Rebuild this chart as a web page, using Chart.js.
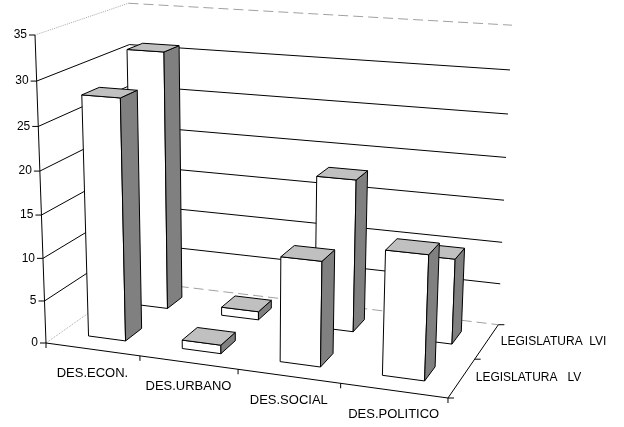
<!DOCTYPE html>
<html lang="es">
<head>
<meta charset="UTF-8">
<title>Legislaturas</title>
<script src="https://cdn.jsdelivr.net/npm/chart.js"></script>
<style>
  body { margin: 0; background: #fff; }
</style>
</head>
<body>
<canvas id="grafico" width="624" height="427"></canvas>
<script>
// datos
const categorias = ['DES.ECON.', 'DES.URBANO', 'DES.SOCIAL', 'DES.POLITICO'];
const series = ['LEGISLATURA   LV', 'LEGISLATURA  LVI'];
const valoresLV = [28, 1, 12, 14];
const valoresLVI = [31, 1, 18, 10];
const ticksY = [0, 5, 10, 15, 20, 25, 30, 35];

// camara en perspectiva (origen + direcciones u, w, h en coordenadas homogeneas)
const O = [46, 343, 1];
const EU = [363.9, 21.17, -0.085];
const EW = [103.4, -29.7, 0.115];
const EH = [-12.84, -309.84, -0.0526];

function proj(u, w, h) {
  const X = O[0] + u * EU[0] + w * EW[0] + h * EH[0];
  const Y = O[1] + u * EU[1] + w * EW[1] + h * EH[1];
  const Z = O[2] + u * EU[2] + w * EW[2] + h * EH[2];
  return [X / Z, Y / Z];
}

function linea(ctx, a, b, color, dash) {
  const p = proj(a[0], a[1], a[2]), q = proj(b[0], b[1], b[2]);
  ctx.save();
  ctx.strokeStyle = color;
  ctx.setLineDash(dash || []);
  ctx.beginPath();
  ctx.moveTo(p[0], p[1]);
  ctx.lineTo(q[0], q[1]);
  ctx.stroke();
  ctx.restore();
}

function cara(ctx, pts, fill) {
  ctx.beginPath();
  pts.forEach((c, k) => {
    const p = proj(c[0], c[1], c[2]);
    if (k === 0) ctx.moveTo(p[0], p[1]); else ctx.lineTo(p[0], p[1]);
  });
  ctx.closePath();
  ctx.fillStyle = fill;
  ctx.fill();
  ctx.stroke();
}

const tresD = {
  id: 'tresD',
  beforeDatasetsDraw() { return false; },
  afterDraw(chart) {
    const ctx = chart.ctx;
    const xs = chart.scales.x, ys = chart.scales.y, zs = chart.scales.z;
    const U = i => (xs.getPixelForValue(i) - xs.left) / xs.width;
    const W = s => zs.width > 0 ? (zs.getPixelForValue(s) - zs.left) / zs.width : (s + 0.5) / series.length;
    const H = v => (ys.bottom - ys.getPixelForValue(v)) / ys.height;
    const pasoU = U(1) - U(0);
    const pasoW = W(1) - W(0);

    ctx.save();
    ctx.lineWidth = 1;
    ctx.lineJoin = 'round';

    // paredes: lateral (u=0) y fondo (w=1)
    const maxV = ticksY[ticksY.length - 1];
    ticksY.forEach(t => {
      const h = H(t);
      const borde = (t === 0 || t === maxV);
      linea(ctx, [0, 0, h], [0, 1, h], borde ? '#a8a8a8' : '#000', borde ? [1, 1] : []);
      linea(ctx, [0, 1, h], [1, 1, h], borde ? '#a0a0a0' : '#000', borde ? [10, 5] : []);
    });

    // ejes
    linea(ctx, [0, 0, 0], [0, 0, 1], '#000');
    linea(ctx, [0, 0, 0], [1, 0, 0], '#000');
    linea(ctx, [1, 0, 0], [1, 1, 0], '#000');

    ctx.fillStyle = '#000';
    ctx.strokeStyle = '#000';

    // marcas y etiquetas del eje de valores
    ctx.font = '12px "Liberation Sans", Arial, sans-serif';
    ctx.textAlign = 'right';
    ctx.textBaseline = 'middle';
    ticksY.forEach(t => {
      const p = proj(0, 0, H(t));
      ctx.beginPath();
      ctx.moveTo(p[0] - 6, p[1]);
      ctx.lineTo(p[0], p[1]);
      ctx.stroke();
      ctx.fillText(String(t), p[0] - 8, p[1]);
    });

    // marcas y etiquetas de categorias
    for (let i = 0; i <= categorias.length; i++) {
      const u = i < categorias.length ? U(i) - pasoU / 2 : U(i - 1) + pasoU / 2;
      const p = proj(u, 0, 0);
      ctx.beginPath();
      ctx.moveTo(p[0], p[1]);
      ctx.lineTo(p[0], p[1] + 5);
      ctx.stroke();
    }
    ctx.font = '13px "Liberation Sans", Arial, sans-serif';
    ctx.textAlign = 'center';
    categorias.forEach((c, i) => {
      const p = proj(U(i), 0, 0);
      ctx.fillText(c, p[0], p[1] + 24);
    });

    // marcas y etiquetas de series (profundidad)
    for (let s = 0; s <= series.length; s++) {
      const w = s < series.length ? W(s) - pasoW / 2 : W(s - 1) + pasoW / 2;
      const p = proj(1, w, 0);
      ctx.beginPath();
      ctx.moveTo(p[0], p[1]);
      ctx.lineTo(p[0] + 6, p[1]);
      ctx.stroke();
    }
    ctx.font = '12px "Liberation Sans", Arial, sans-serif';
    ctx.textAlign = 'left';
    series.forEach((n, s) => {
      const p = proj(1, W(s), 0);
      ctx.fillText(n, p[0] + 14, p[1]);
    });

    // barras: de atras hacia adelante, de izquierda a derecha
    const datos = chart.data.datasets;
    for (let s = datos.length - 1; s >= 0; s--) {
      datos[s].data.forEach((v, i) => {
        const u0 = U(i) - pasoU * 0.2, u1 = U(i) + pasoU * 0.2;
        const w0 = W(s) - pasoW * 0.185, w1 = W(s) + pasoW * 0.185;
        const h = H(v);
        cara(ctx, [[u0, w0, 0], [u1, w0, 0], [u1, w0, h], [u0, w0, h]], '#ffffff');
        cara(ctx, [[u1, w0, 0], [u1, w1, 0], [u1, w1, h], [u1, w0, h]], '#808080');
        cara(ctx, [[u0, w0, h], [u1, w0, h], [u1, w1, h], [u0, w1, h]], '#c0c0c0');
      });
    }
    ctx.restore();
  }
};

new Chart(document.getElementById('grafico'), {
  type: 'bar',
  data: {
    labels: categorias,
    datasets: [
      { label: series[0], data: valoresLV },
      { label: series[1], data: valoresLVI }
    ]
  },
  options: {
    responsive: false,
    animation: false,
    layout: { padding: 0 },
    plugins: {
      legend: { display: false },
      tooltip: { enabled: false }
    },
    scales: {
      x: { type: 'category', display: false },
      z: { type: 'category', axis: 'x', labels: series, display: false },
      y: { type: 'linear', min: 0, max: 35, display: false, ticks: { stepSize: 5 } }
    }
  },
  plugins: [tresD]
});
</script>
</body>
</html>
